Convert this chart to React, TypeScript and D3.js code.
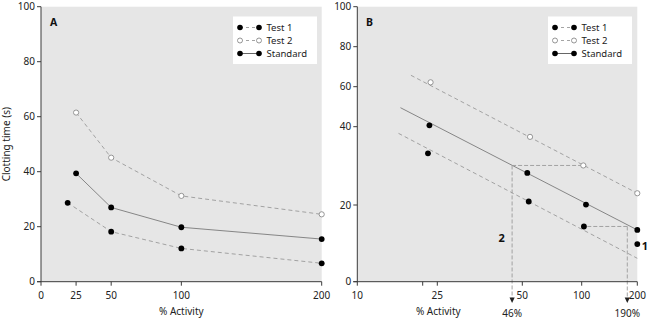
import React from "react";
import * as d3 from "d3";

// ---------- Data ----------
// Panel A (linear axes)
const aXTicks = [0, 25, 50, 100, 200];
const aYTicks = [0, 20, 40, 60, 80, 100];
const aTest1: [number, number][] = [[19, 28.7], [50, 18.2], [100, 12.1], [200, 6.7]];
const aTest2: [number, number][] = [[25, 61.5], [50, 45.1], [100, 31.2], [200, 24.5]];
const aStandard: [number, number][] = [[25, 39.4], [50, 27], [100, 19.8], [200, 15.5]];

// Panel B (schematic log-like axes)
const bXTicks = [10, 20, 25, 50, 100, 200];
const bXTickLabels = ["10", "", "25", "50", "100", "200"];
const bYTicks = [0, 20, 40, 60, 80, 100];
const bTest1: [number, number][] = [[21.8, 33.2], [55.4, 20.9], [104, 14.4], [200, 9.8]];
const bTest2: [number, number][] = [[22.7, 62.2], [56.5, 37.4], [102.9, 30.1], [200, 23.0]];
const bStandard: [number, number][] = [[22.3, 40.7], [54.2, 28.2], [107.7, 20.1], [200, 13.5]];
const bTest1Fit: [number, number][] = [[16.3, 38.3], [200, 6.1]];
const bTest2Fit: [number, number][] = [[18.2, 65.7], [200, 23.0]];
const bStandardFit: [number, number][] = [[16.6, 49.5], [200, 13.5]];
const bRefValues = [47, 182];
const bRefLabels = ["46%", "190%"];

const legendItems = ["Test 1", "Test 2", "Standard"];

const FONT = "'Noto Sans', 'Liberation Sans', Arial, sans-serif";
const BG = "#e6e6e6";
const AXIS = "#3a3a3a";
const LINE = "#7a7a7a";
const DASH = "#9a9a9a";

type Scale = (v: number) => number;

function Dots({ data, x, y, open }: { data: [number, number][]; x: Scale; y: Scale; open?: boolean }) {
  return (
    <g>
      {data.map((d, i) => (
        <circle
          key={i}
          cx={x(d[0])}
          cy={y(d[1])}
          r={open ? 2.6 : 2.9}
          fill={open ? "#fff" : "#000"}
          stroke={open ? "#8a8a8a" : "none"}
          strokeWidth={0.9}
        />
      ))}
    </g>
  );
}

function Path({ data, x, y, dashed, color }: { data: [number, number][]; x: Scale; y: Scale; dashed?: boolean; color: string }) {
  const line = d3.line<[number, number]>().x((d) => x(d[0])).y((d) => y(d[1]));
  return (
    <path
      d={line(data) || ""}
      fill="none"
      stroke={color}
      strokeWidth={0.9}
      strokeDasharray={dashed ? "4,3" : undefined}
    />
  );
}

function Legend({ x0, y0 }: { x0: number; y0: number }) {
  const rows = [y0 + 11, y0 + 24, y0 + 37];
  return (
    <g>
      <rect x={x0} y={y0} width={84} height={47.5} fill="#fff" />
      {legendItems.map((name, i) => {
        const yy = rows[i];
        const open = i === 1;
        return (
          <g key={name}>
            <line
              x1={x0 + 7}
              x2={x0 + 26}
              y1={yy}
              y2={yy}
              stroke={i === 2 ? "#555" : DASH}
              strokeWidth={0.9}
              strokeDasharray={i === 2 ? undefined : "3,3"}
            />
            {[x0 + 7, x0 + 26].map((cx, j) => (
              <circle
                key={j}
                cx={cx}
                cy={yy}
                r={open ? 2.5 : 2.8}
                fill={open ? "#fff" : "#000"}
                stroke={open ? "#8a8a8a" : "none"}
                strokeWidth={0.9}
              />
            ))}
            <text x={x0 + 33.5} y={yy + 3.4} fontSize={9.5} fontFamily={FONT} fill="#222">
              {name}
            </text>
          </g>
        );
      })}
    </g>
  );
}

export default function App() {
  // Panel A scales
  const ax = d3.scaleLinear().domain([0, 200]).range([41, 321.7]);
  const ay = d3.scaleLinear().domain([0, 100]).range([281.7, 6.7]);
  // Panel B scales (piecewise)
  const bx = d3.scaleLinear().domain(bXTicks).range([357.3, 422.7, 437.3, 522.3, 581.7, 637.3]);
  const by = d3.scaleLinear().domain(bYTicks).range([281.7, 205, 126.7, 86.7, 46.7, 6.7]);

  // reference lines in B
  const refY = [bTest2[2][1], bTest1[2][1]];
  const refXStart = [bTest2[2][0], bTest1[2][0]];

  return (
    <svg
      width={649}
      height={321}
      style={{ position: "absolute", left: 0, top: 0, background: "#fff" }}
      fontFamily={FONT}
    >
      {/* ---------------- Panel A ---------------- */}
      <rect x={ax(0)} y={ay(100)} width={ax(200) - ax(0)} height={ay(0) - ay(100)} fill={BG} />
      <text x={50} y={25.5} fontSize={10.5} fontWeight="bold" fill="#111">A</text>
      <Legend x0={233} y0={16.5} />
      <Path data={aTest2} x={ax} y={ay} dashed color={DASH} />
      <Path data={aStandard} x={ax} y={ay} color={LINE} />
      <Path data={aTest1} x={ax} y={ay} dashed color={DASH} />
      <Dots data={aTest2} x={ax} y={ay} open />
      <Dots data={aStandard} x={ax} y={ay} />
      <Dots data={aTest1} x={ax} y={ay} />
      {/* axes A */}
      <line x1={ax(0)} x2={ax(0)} y1={ay(100)} y2={ay(0)} stroke={AXIS} strokeWidth={1} />
      <line x1={ax(0) - 4} x2={ax(200)} y1={ay(0)} y2={ay(0)} stroke={AXIS} strokeWidth={1} />
      {aYTicks.map((t) => (
        <g key={"ay" + t}>
          <line x1={ax(0) - 4} x2={ax(0)} y1={ay(t)} y2={ay(t)} stroke={AXIS} />
          <text x={ax(0) - 6} y={ay(t) + 3.5} fontSize={10} textAnchor="end" fill="#222">{t}</text>
        </g>
      ))}
      {aXTicks.map((t) => (
        <g key={"ax" + t}>
          <line x1={ax(t)} x2={ax(t)} y1={ay(0)} y2={ay(0) + 4} stroke={AXIS} />
          <text x={ax(t)} y={299} fontSize={10} textAnchor="middle" fill="#222">{t}</text>
        </g>
      ))}
      <text x={ax(100)} y={315} fontSize={10} textAnchor="middle" fill="#222">% Activity</text>
      <text
        transform={`translate(10,${(ay(0) + ay(100)) / 2}) rotate(-90)`}
        fontSize={10}
        textAnchor="middle"
        fill="#222"
      >
        Clotting time (s)
      </text>

      {/* ---------------- Panel B ---------------- */}
      <rect x={bx(10)} y={by(100)} width={bx(200) - bx(10)} height={by(0) - by(100)} fill={BG} />
      <text x={366} y={25.5} fontSize={10.5} fontWeight="bold" fill="#111">B</text>
      <Legend x0={548} y0={16.5} />
      <Path data={bTest2Fit} x={bx} y={by} dashed color={DASH} />
      <Path data={bStandardFit} x={bx} y={by} color={LINE} />
      <Path data={bTest1Fit} x={bx} y={by} dashed color={DASH} />
      {/* reference lines */}
      {bRefValues.map((v, i) => (
        <g key={"ref" + i}>
          <line
            x1={bx(v)}
            x2={bx(refXStart[i])}
            y1={by(refY[i])}
            y2={by(refY[i])}
            stroke={DASH}
            strokeWidth={0.9}
            strokeDasharray="4,2"
          />
          <line
            x1={bx(v)}
            x2={bx(v)}
            y1={by(refY[i])}
            y2={298}
            stroke={DASH}
            strokeWidth={0.9}
            strokeDasharray="4,2"
          />
          <path d={`M${bx(v) - 2.6},297.5 L${bx(v) + 2.6},297.5 L${bx(v)},303 Z`} fill="#222" />
          <text x={bx(v)} y={317} fontSize={10} textAnchor="middle" fill="#222">{bRefLabels[i]}</text>
        </g>
      ))}
      <Dots data={bTest2} x={bx} y={by} open />
      <Dots data={bStandard} x={bx} y={by} />
      <Dots data={bTest1} x={bx} y={by} />
      <text x={501.7} y={241.5} fontSize={11} fontWeight="bold" textAnchor="middle" fill="#111">2</text>
      <text x={645} y={250} fontSize={11} fontWeight="bold" textAnchor="middle" fill="#111">1</text>
      {/* axes B */}
      <line x1={bx(10)} x2={bx(10)} y1={by(100)} y2={by(0)} stroke={AXIS} strokeWidth={1} />
      <line x1={bx(10) - 4} x2={bx(200)} y1={by(0)} y2={by(0)} stroke={AXIS} strokeWidth={1} />
      {bYTicks.map((t) => (
        <g key={"by" + t}>
          <line x1={bx(10) - 4} x2={bx(10)} y1={by(t)} y2={by(t)} stroke={AXIS} />
          <text x={bx(10) - 6} y={by(t) + 3.5} fontSize={10} textAnchor="end" fill="#222">{t}</text>
        </g>
      ))}
      {bXTicks.map((t, i) => (
        <g key={"bx" + t}>
          <line x1={bx(t)} x2={bx(t)} y1={by(0)} y2={by(0) + 4} stroke={AXIS} />
          {bXTickLabels[i] && (
            <text x={bx(t)} y={299} fontSize={10} textAnchor="middle" fill="#222">{bXTickLabels[i]}</text>
          )}
        </g>
      ))}
      <text x={438.3} y={315} fontSize={10} textAnchor="middle" fill="#222">% Activity</text>
    </svg>
  );
}
